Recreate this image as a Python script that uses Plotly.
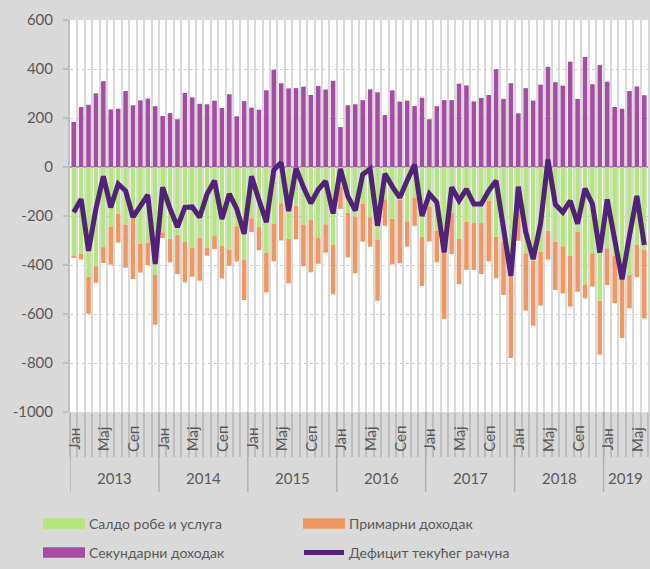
import plotly.graph_objects as go

# ---------------- data ----------------
years = [2013, 2014, 2015, 2016, 2017, 2018, 2019]
months_per_year = [12, 12, 12, 12, 12, 12, 6]
month_names = ["Јан", "Феб", "Мар", "Апр", "Мај", "Јун", "Јул", "Авг", "Сеп", "Окт", "Нов", "Дец"]
shown_months = ["Јан", "Мај", "Сеп"]

series_names = ["Салдо робе и услуга", "Примарни доходак", "Секундарни доходак", "Дефицит текућег рачуна"]

goods_services = [
    -362, -355, -448, -405, -327, -244, -190, -235, -212, -314, -309, -440,
    -267, -294, -278, -305, -328, -290, -328, -282, -321, -339, -242, -380,
    -209, -245, -350, -233, -148, -294, -158, -235, -216, -290, -234, -318,
    -80, -187, -202, -151, -205, -298, -132, -212, -135, -222, -124, -286,
    -162, -260, -345, -188, -294, -223, -229, -229, -137, -285, -305, -444,
    -170, -352, -382, -346, -260, -305, -324, -362, -264, -480, -352, -546,
    -332, -362, -441, -441, -317, -339,
]
primary_income = [
    -9, -23, -151, -68, -65, -155, -119, -176, -245, -117, -91, -204,
    -23, -95, -159, -166, -120, -174, -34, -53, -134, -64, -144, -163,
    -56, -95, -162, -152, -152, -181, -137, -170, -214, -105, -116, -202,
    -91, -182, -232, -154, -120, -248, -108, -186, -258, -103, -116, -200,
    -142, -129, -275, -167, -184, -197, -191, -208, -248, -169, -217, -336,
    -131, -234, -266, -220, -118, -197, -192, -208, -245, -56, -136, -220,
    -150, -194, -257, -136, -133, -279,
]
secondary_income = [
    184, 245, 254, 301, 350, 235, 238, 310, 252, 272, 279, 248,
    208, 220, 195, 302, 284, 258, 256, 271, 241, 297, 207, 269,
    242, 234, 313, 397, 342, 321, 322, 328, 294, 331, 316, 352,
    163, 252, 256, 273, 317, 305, 212, 313, 267, 271, 249, 283,
    195, 248, 273, 273, 340, 333, 268, 282, 294, 399, 278, 342,
    219, 322, 271, 336, 409, 346, 332, 430, 278, 449, 338, 416,
    348, 245, 238, 310, 329, 293,
]
current_account = [
    -185, -131, -342, -170, -38, -165, -69, -97, -205, -158, -114, -396,
    -83, -170, -245, -165, -163, -205, -110, -56, -212, -110, -171, -273,
    -38, -135, -225, -12, 18, -180, -5, -82, -148, -92, -58, -190,
    -8, -120, -178, -30, -8, -240, -28, -80, -125, -55, 10, -200,
    -110, -144, -348, -83, -137, -90, -151, -151, -97, -56, -245, -444,
    -80, -265, -376, -232, 30, -153, -185, -138, -232, -88, -151, -349,
    -132, -300, -458, -280, -118, -318,
]

y_tick_values = [-1000, -800, -600, -400, -200, 0, 200, 400, 600]
y_tick_labels = ["-1000", "-800", "-600", "-400", "-200", "0", "200", "400", "600"]

# ---------------- styling ----------------
GREEN = "#b3e67b"
ORANGE = "#f09862"
PURPLE = "#a54ca4"
LINE = "#52217a"
TEXT = "#595959"
FONT = "Lato, 'Noto Sans', sans-serif"

W, H = 650, 569
ML, MR, MT, MB = 70, 2, 20, 157
PW, PH = W - ML - MR, H - MT - MB


def px(X):
    return (X - ML) / PW


def py(Y):
    return (H - MB - Y) / PH


# month labels / positions
labels = []
for yr, cnt in zip(years, months_per_year):
    for m in range(cnt):
        labels.append(f"{month_names[m]} {yr}")
n = len(labels)
x = list(range(n))

fig = go.Figure()
fig.add_bar(x=x, y=goods_services, name=series_names[0], marker_color=GREEN,
            marker_line_width=0, hovertext=labels)
fig.add_bar(x=x, y=primary_income, name=series_names[1], marker_color=ORANGE,
            marker_line_width=0, hovertext=labels)
fig.add_bar(x=x, y=secondary_income, name=series_names[2], marker_color=PURPLE,
            marker_line_width=0, hovertext=labels)
fig.add_scatter(x=x, y=current_account, name=series_names[3], mode="lines",
                line=dict(color=LINE, width=5), hovertext=labels)

annotations = []
shapes = []

# month labels (rotated)
idx = 0
for yr, cnt in zip(years, months_per_year):
    start = idx
    for m in range(cnt):
        if month_names[m] in shown_months:
            annotations.append(dict(x=idx, xref="x", y=py(439), yref="paper",
                                    text=month_names[m], textangle=-90, showarrow=False,
                                    xanchor="center", yanchor="middle",
                                    font=dict(size=15, color=TEXT, family=FONT)))
        idx += 1
    # year label
    annotations.append(dict(x=(start + idx - 1) / 2, xref="x", y=py(478), yref="paper",
                            text=str(yr), showarrow=False, xanchor="center", yanchor="middle",
                            font=dict(size=15, color=TEXT, family=FONT)))
    # year separator
    shapes.append(dict(type="line", xref="x", yref="paper", x0=start - 0.5, x1=start - 0.5,
                       y0=0, y1=py(492), line=dict(color="#b0b0b0", width=1.5)))

# custom legend
legend_items = [
    (series_names[0], GREEN, "bar", 43, 523.5),
    (series_names[1], ORANGE, "bar", 303, 523.5),
    (series_names[2], PURPLE, "bar", 43, 552.5),
    (series_names[3], LINE, "line", 303, 552.5),
]
for name, color, kind, X0, Yc in legend_items:
    if kind == "bar":
        shapes.append(dict(type="rect", xref="paper", yref="paper",
                           x0=px(X0), x1=px(X0 + 42), y0=py(Yc - 5.3), y1=py(Yc + 5.3),
                           fillcolor=color, line=dict(width=0)))
    else:
        shapes.append(dict(type="line", xref="paper", yref="paper",
                           x0=px(X0 + 1), x1=px(X0 + 41), y0=py(Yc), y1=py(Yc),
                           line=dict(color=color, width=5)))
    annotations.append(dict(x=px(X0 + 44), y=py(Yc), xref="paper", yref="paper",
                            text=name, showarrow=False, xanchor="left", yanchor="middle",
                            font=dict(size=14, color=TEXT, family=FONT)))

fig.update_layout(
    width=W, height=H, autosize=False,
    margin=dict(l=ML, r=MR, t=MT, b=MB, pad=0),
    paper_bgcolor="#d9d9d9", plot_bgcolor="#ffffff",
    barmode="relative", bargap=0.38,
    showlegend=False,
    font=dict(family=FONT, color=TEXT, size=15),
    annotations=annotations, shapes=shapes,
    xaxis=dict(range=[-0.5, n - 0.5], tickmode="array",
               tickvals=[i - 0.5 for i in range(n + 1)],
               ticktext=["" for _ in range(n + 1)],
               ticks="outside", ticklen=44, tickwidth=1.5, tickcolor="#bdbdbd",
               showgrid=True, gridcolor="#d9d9d9", gridwidth=2,
               showticklabels=False, zeroline=False, showline=False, fixedrange=True),
    yaxis=dict(range=[-1000, 600], tickmode="array", tickvals=y_tick_values,
               ticktext=y_tick_labels, ticks="outside", ticklen=5, tickwidth=1.5,
               tickcolor="#bfbfbf", showline=True, linecolor="#bfbfbf", linewidth=2,
               showgrid=True, gridcolor="#cfcfcf", griddash="dot", gridwidth=1,
               zeroline=True, zerolinecolor="#a6a6a6", zerolinewidth=2,
               tickfont=dict(size=15, color=TEXT, family=FONT),
               ticklabelstandoff=7, fixedrange=True),
)

fig.write_html(
    "out.html",
    config={"displayModeBar": False},
    post_script="document.body.style.margin='0';document.body.style.overflow='hidden';"
                "document.body.style.background='#d9d9d9';",
)
